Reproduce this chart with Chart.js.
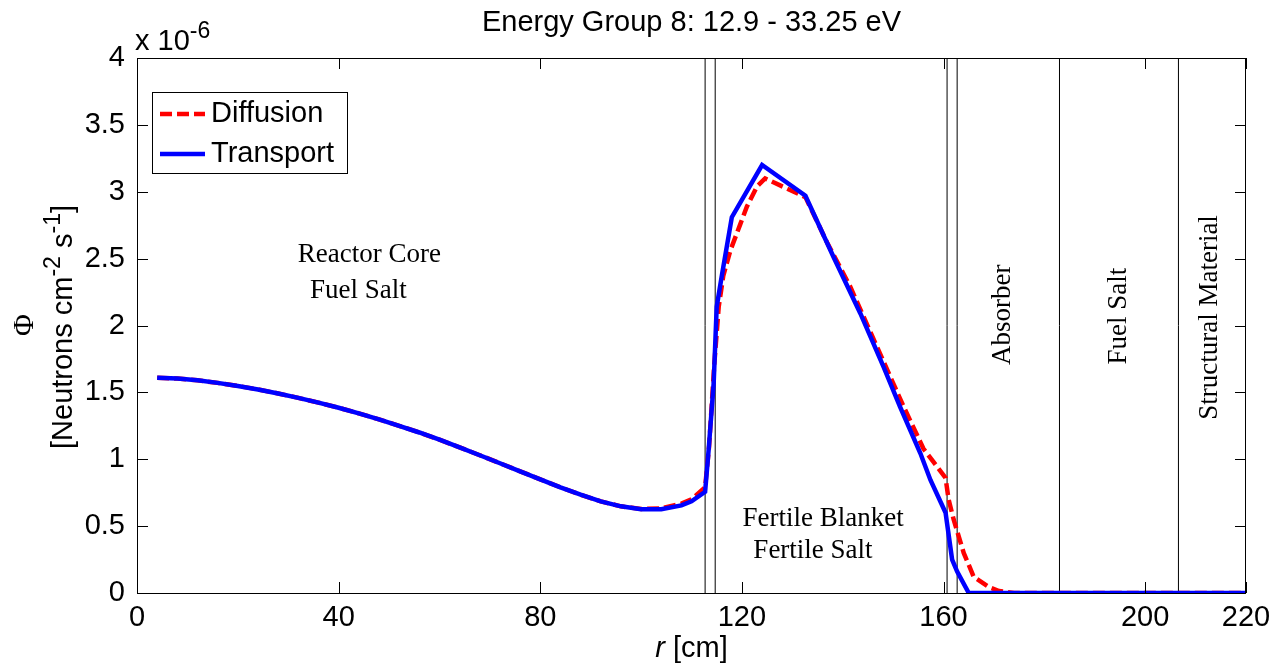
<!DOCTYPE html>
<html>
<head>
<meta charset="utf-8">
<script src="https://cdn.jsdelivr.net/npm/chart.js@4.4.1/dist/chart.umd.min.js"></script>
<style>
  html, body { margin: 0; padding: 0; background: #fff; }
  #wrap { width: 1282px; height: 663px; }
</style>
</head>
<body>
<div id="wrap"><canvas id="fluxChart"></canvas></div>
<script>
// values are in units of 1e-6 (see "x 10^-6" multiplier on the axis)
const rDiffusion = [4, 8, 12, 16, 20, 24, 28, 32, 36, 40, 44, 48, 52, 56, 60, 64, 68, 72, 76, 80, 84, 88, 92, 96, 100, 104, 108, 110,
  112.7, 113.5, 114.5, 115.4, 116.3, 117.7, 119.7, 121, 123, 124.6, 128, 132.6, 136.9, 141.5, 146.8, 152, 156, 158, 160.4, 161,
  162, 164, 166, 169, 171, 174, 220];
const phiDiffusion = [1.61, 1.603, 1.59, 1.571, 1.548, 1.522, 1.492, 1.459, 1.423, 1.385, 1.343, 1.298, 1.25, 1.20, 1.146, 1.089, 1.03, 0.97, 0.91, 0.85, 0.79, 0.735, 0.685, 0.648, 0.628, 0.632, 0.668, 0.70,
  0.79, 1.1, 1.7, 2.14, 2.37, 2.56, 2.76, 2.89, 3.04, 3.10, 3.04, 2.96, 2.62, 2.29, 1.84, 1.40, 1.08, 0.98, 0.86, 0.70,
  0.55, 0.30, 0.12, 0.045, 0.015, 0, 0];

const rTransport = [4, 8, 12, 16, 20, 24, 28, 32, 36, 40, 44, 48, 52, 56, 60, 64, 68, 72, 76, 80, 84, 88, 92, 96, 100, 104, 108, 110,
  112.7, 113.4, 114.4, 115.0, 116.0, 118.0, 124.0, 132.6, 138.2, 143.5, 148.1, 151.4, 155.4, 157.4, 160.4, 161.7, 162.7, 165, 220];
const phiTransport = [1.61, 1.603, 1.59, 1.571, 1.548, 1.522, 1.492, 1.459, 1.423, 1.385, 1.343, 1.298, 1.25, 1.20, 1.146, 1.089, 1.03, 0.97, 0.91, 0.85, 0.79, 0.735, 0.685, 0.648, 0.626, 0.626, 0.655, 0.685,
  0.757, 1.07, 1.57, 2.14, 2.37, 2.81, 3.20, 2.97, 2.51, 2.09, 1.69, 1.39, 1.045, 0.845, 0.6, 0.25, 0.16, 0, 0];

// region boundaries [cm]
const boundaries = [112.7, 114.7, 160.7, 162.7, 183, 206.6];

const xTicks = [0, 40, 80, 120, 160, 200, 220];
const yTicks = [0, 0.5, 1, 1.5, 2, 2.5, 3, 3.5, 4];
const yTickLabels = ['0', '0.5', '1', '1.5', '2', '2.5', '3', '3.5', '4'];

const titleText = 'Energy Group 8: 12.9 - 33.25 eV';
const regionLabels = [
  { text: 'Reactor Core', r: 46.1, phi: 2.53 },
  { text: 'Fuel Salt', r: 43.9, phi: 2.26 },
  { text: 'Fertile Blanket', r: 136.1, phi: 0.553 },
  { text: 'Fertile Salt', r: 134.1, phi: 0.314 },
  { text: 'Absorber', r: 171.8, phi: 2.08, rotate: true },
  { text: 'Fuel Salt', r: 194.7, phi: 2.07, rotate: true },
  { text: 'Structural Material', r: 212.9, phi: 2.06, rotate: true },
];

const SANS = '"Liberation Sans", Arial, Helvetica, sans-serif';
const SERIF = '"Liberation Serif", "Times New Roman", serif';

const pts = (xs, ys) => xs.map((x, i) => ({ x, y: ys[i] }));

// draw text runs with superscripts, starting at x (baseline y)
function drawRuns(ctx, runs, x, y, align) {
  const widths = runs.map(r => { ctx.font = (r.sup ? '23px ' : '29px ') + (r.font || SANS); return ctx.measureText(r.t).width; });
  const total = widths.reduce((a, b) => a + b, 0);
  let cx = align === 'center' ? x - total / 2 : x;
  ctx.textAlign = 'left';
  ctx.textBaseline = 'alphabetic';
  runs.forEach((r, i) => {
    ctx.font = (r.italic ? 'italic ' : '') + (r.sup ? '23px ' : '29px ') + (r.font || SANS);
    ctx.fillText(r.t, cx, r.sup ? y - 12 : y);
    cx += widths[i];
  });
}

const decor = {
  id: 'decor',
  afterDatasetsDraw(chart) {
    const { ctx, scales: { x, y } } = chart;
    ctx.save();
    ctx.fillStyle = '#000';
    ctx.font = '27px ' + SERIF;
    ctx.textAlign = 'center';
    ctx.textBaseline = 'middle';
    regionLabels.forEach(l => {
      const px = x.getPixelForValue(l.r), py = y.getPixelForValue(l.phi);
      if (l.rotate) {
        ctx.save(); ctx.translate(px, py); ctx.rotate(-Math.PI / 2);
        ctx.fillText(l.text, 0, 0); ctx.restore();
      } else ctx.fillText(l.text, px, py);
    });
    ctx.restore();
  },
  afterDraw(chart) {
    const { ctx, chartArea: a, scales: { x, y } } = chart;
    ctx.save();
    // box + inward ticks
    ctx.strokeStyle = '#000';
    ctx.lineWidth = 1;
    ctx.strokeRect(Math.round(a.left) + 0.5, Math.round(a.top) + 0.5, Math.round(a.right - a.left) - 1, Math.round(a.bottom - a.top));
    const tl = 11;
    ctx.beginPath();
    xTicks.forEach(v => {
      const px = Math.round(x.getPixelForValue(v)) + 0.5;
      ctx.moveTo(px, a.bottom); ctx.lineTo(px, a.bottom - tl);
      ctx.moveTo(px, a.top); ctx.lineTo(px, a.top + tl);
    });
    yTicks.forEach(v => {
      const py = Math.round(y.getPixelForValue(v)) + 0.5;
      ctx.moveTo(a.left, py); ctx.lineTo(a.left + tl, py);
      ctx.moveTo(a.right, py); ctx.lineTo(a.right - tl, py);
    });
    ctx.stroke();

    ctx.fillStyle = '#000';
    // title
    ctx.font = '29px ' + SANS;
    ctx.textAlign = 'center';
    ctx.textBaseline = 'alphabetic';
    ctx.fillText(titleText, (a.left + a.right) / 2, 31);
    // exponent
    drawRuns(ctx, [{ t: 'x 10' }, { t: '-6', sup: true }], a.left - 2, 50, 'left');
    // x label
    drawRuns(ctx, [{ t: 'r', italic: true }, { t: ' [cm]' }], (a.left + a.right) / 2, 657, 'center');
    // y label
    ctx.save();
    ctx.translate(72, 327); ctx.rotate(-Math.PI / 2);
    drawRuns(ctx, [{ t: '[Neutrons cm' }, { t: '-2', sup: true }, { t: ' s' }, { t: '-1', sup: true }, { t: ']' }], 0, 0, 'center');
    ctx.restore();
    ctx.save();
    ctx.translate(25, 325); ctx.rotate(-Math.PI / 2);
    ctx.font = '30px ' + SERIF; ctx.textAlign = 'center'; ctx.textBaseline = 'middle';
    ctx.fillText('\u03A6', 0, 0);
    ctx.restore();

    // legend
    const lx = 152, ly = 92, lw = 195, lh = 81;
    ctx.fillStyle = '#fff';
    ctx.fillRect(lx, ly, lw, lh);
    ctx.strokeStyle = '#000';
    ctx.lineWidth = 1;
    ctx.strokeRect(lx + 0.5, ly + 0.5, lw, lh);
    chart.data.datasets.filter(d => d.label).forEach((d, i) => {
      const yy = ly + 22 + i * 40;
      ctx.strokeStyle = d.borderColor;
      ctx.lineWidth = d.borderWidth;
      ctx.setLineDash(d.borderDash || []);
      ctx.beginPath(); ctx.moveTo(lx + 8, yy); ctx.lineTo(lx + 53, yy); ctx.stroke();
      ctx.setLineDash([]);
      ctx.fillStyle = '#000';
      ctx.font = '29px ' + SANS;
      ctx.textAlign = 'left'; ctx.textBaseline = 'middle';
      ctx.fillText(d.label, lx + 59, yy);
    });
    ctx.restore();
  }
};

const boundarySets = boundaries.map(b => ({
  data: [{ x: b, y: 0 }, { x: b, y: 4 }],
  borderColor: '#000', borderWidth: 1, pointRadius: 0, order: 3
}));

new Chart(document.getElementById('fluxChart'), {
  type: 'line',
  data: {
    datasets: [
      { label: 'Diffusion', data: pts(rDiffusion, phiDiffusion), borderColor: '#ff0000', borderWidth: 4.5, borderDash: [12, 5], pointRadius: 0, tension: 0, order: 2 },
      { label: 'Transport', data: pts(rTransport, phiTransport), borderColor: '#0000ff', borderWidth: 4.5, pointRadius: 0, tension: 0, order: 1 },
      ...boundarySets
    ]
  },
  options: {
    responsive: true,
    maintainAspectRatio: false,
    animation: false,
    events: [],
    layout: { padding: { top: 58, right: 36, bottom: 0, left: 0 } },
    plugins: { legend: { display: false }, tooltip: { enabled: false } },
    scales: {
      x: {
        type: 'linear', min: 0, max: 220,
        afterBuildTicks: s => { s.ticks = xTicks.map(v => ({ value: v })); },
        afterFit: s => { s.height = 70; },
        ticks: { font: { family: SANS, size: 29 }, color: '#000', padding: 0, maxRotation: 0, autoSkip: false, callback: v => String(v) },
        grid: { display: false }, border: { display: false }
      },
      y: {
        type: 'linear', min: 0, max: 4,
        afterBuildTicks: s => { s.ticks = yTicks.map(v => ({ value: v })); },
        afterFit: s => { s.width = 137; },
        ticks: { font: { family: SANS, size: 29 }, color: '#000', padding: 4, autoSkip: false, callback: (v, i) => yTickLabels[i] },
        grid: { display: false }, border: { display: false }
      }
    }
  },
  plugins: [decor]
});
</script>
</body>
</html>
